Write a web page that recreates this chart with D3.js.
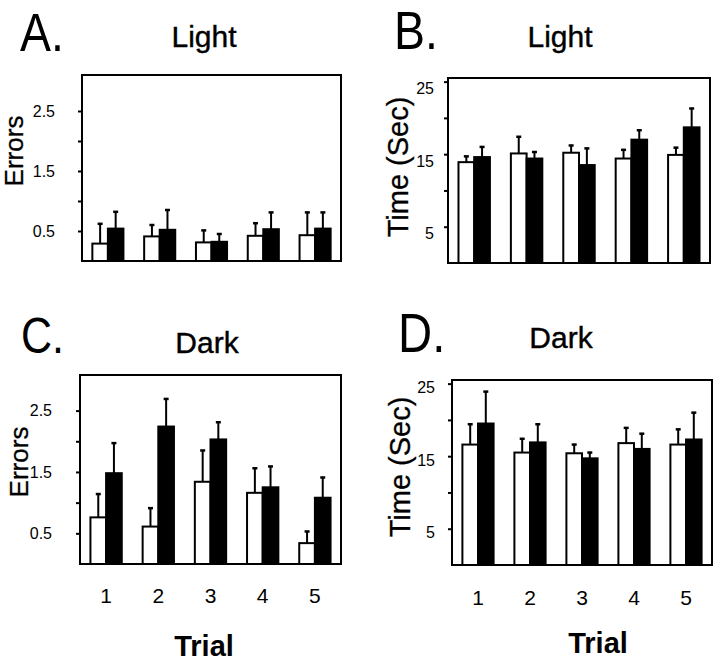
<!DOCTYPE html>
<html>
<head>
<meta charset="utf-8">
<script src="https://cdn.jsdelivr.net/npm/d3@7"></script>
<style>
  html, body { margin: 0; padding: 0; background: #fff; }
  svg { display: block; font-family: "Liberation Sans", Arial, sans-serif; }
</style>
</head>
<body>
<svg id="chart" width="720" height="661"></svg>
<script>
// ---- data ----
const trials = ["1", "2", "3", "4", "5"];

// A. Light – errors
const lightErrorsOpen      = [0.29, 0.41, 0.31, 0.42, 0.43];
const lightErrorsOpenSE    = [0.33, 0.19, 0.20, 0.21, 0.38];
const lightErrorsFilled    = [0.54, 0.52, 0.32, 0.53, 0.54];
const lightErrorsFilledSE  = [0.28, 0.33, 0.13, 0.28, 0.27];

// B. Light – time (sec)
const lightTimeOpen        = [13.9, 15.1, 15.2, 14.4, 14.9];
const lightTimeOpenSE      = [0.8, 2.3, 1.0, 1.2, 1.0];
const lightTimeFilled      = [14.6, 14.4, 13.5, 17.0, 18.7];
const lightTimeFilledSE    = [1.4, 0.9, 2.3, 1.3, 2.6];

// C. Dark – errors
const darkErrorsOpen       = [0.76, 0.61, 1.34, 1.16, 0.34];
const darkErrorsOpenSE     = [0.38, 0.30, 0.51, 0.40, 0.19];
const darkErrorsFilled     = [1.48, 2.24, 2.03, 1.25, 1.08];
const darkErrorsFilledSE   = [0.49, 0.45, 0.28, 0.34, 0.33];

// D. Dark – time (sec)
const darkTimeOpen         = [16.6, 15.5, 15.4, 16.8, 16.6];
const darkTimeOpenSE       = [2.8, 1.9, 1.2, 2.1, 2.1];
const darkTimeFilled       = [19.5, 16.9, 14.7, 16.0, 17.3];
const darkTimeFilledSE     = [4.4, 2.5, 0.8, 2.1, 3.7];

const errorTicks = [0.5, 1, 1.5, 2, 2.5];
const errorTickLabels = ["0.5", "1.5", "2.5"];
const timeTicks = [5, 10, 15, 20, 25];
const timeTickLabels = ["5", "15", "25"];

// ---- layout ----
const panels = [
  { letter: "A.", title: "Light", yLabel: "Errors",
    open: lightErrorsOpen, openSE: lightErrorsOpenSE, filled: lightErrorsFilled, filledSE: lightErrorsFilledSE,
    ticks: errorTicks, tickLabels: errorTickLabels, yMax: 3.1,
    box: { l: 82, r: 341, t: 75, b: 261 }, tickPad: 27, labelDy: 0,
    letterPos: [20, 51], letterSize: 54, titlePos: [204, 47], yLabelPos: [23, 151], showX: false },
  { letter: "B.", title: "Light", yLabel: "Time (Sec)",
    open: lightTimeOpen, openSE: lightTimeOpenSE, filled: lightTimeFilled, filledSE: lightTimeFilledSE,
    ticks: timeTicks, tickLabels: timeTickLabels, yMax: 25.5,
    box: { l: 448, r: 710, t: 78, b: 263 }, tickPad: 14, labelDy: 7,
    letterPos: [394, 49], letterSize: 54, titlePos: [560, 47], yLabelPos: [408, 167], showX: false },
  { letter: "C.", title: "Dark", yLabel: "Errors",
    open: darkErrorsOpen, openSE: darkErrorsOpenSE, filled: darkErrorsFilled, filledSE: darkErrorsFilledSE,
    ticks: errorTicks, tickLabels: errorTickLabels, yMax: 3.08,
    box: { l: 80, r: 341, t: 375, b: 564 }, tickPad: 28, labelDy: 0,
    letterPos: [21, 353], letterSize: 50, titlePos: [207, 353], yLabelPos: [28, 462], showX: true,
    xLabelY: 603, trialPos: [204, 656] },
  { letter: "D.", title: "Dark", yLabel: "Time (Sec)",
    open: darkTimeOpen, openSE: darkTimeOpenSE, filled: darkTimeFilled, filledSE: darkTimeFilledSE,
    ticks: timeTicks, tickLabels: timeTickLabels, yMax: 25.5,
    box: { l: 452, r: 712, t: 380, b: 565 }, tickPad: 17, labelDy: 4,
    letterPos: [398, 352], letterSize: 55, titlePos: [561, 348], yLabelPos: [410, 467], showX: true,
    xLabelY: 605, trialPos: [598, 653] }
];

const svg = d3.select("#chart");

panels.forEach(p => {
  const g = svg.append("g");
  const x = d3.scaleBand().domain(trials).range([p.box.l, p.box.r]).paddingInner(0.4).paddingOuter(0.2);
  const y = d3.scaleLinear().domain([0, p.yMax]).range([p.box.b, p.box.t]);
  const bw = x.bandwidth() / 2;

  // panel letter
  g.append("text")
    .attr("transform", `translate(${p.letterPos[0]},${p.letterPos[1]}) scale(0.86,1)`)
    .attr("font-size", p.letterSize)
    .attr("fill", "#000")
    .text(p.letter);

  // title
  g.append("text")
    .attr("x", p.titlePos[0]).attr("y", p.titlePos[1])
    .attr("text-anchor", "middle")
    .attr("font-size", 30)
    .attr("stroke", "#000").attr("stroke-width", 0.4)
    .text(p.title);

  // y label
  g.append("text")
    .attr("transform", `translate(${p.yLabelPos[0]},${p.yLabelPos[1]}) rotate(-90)`)
    .attr("text-anchor", "middle")
    .attr("font-size", p.yLabel === "Errors" ? 26 : 29)
    .attr("stroke", "#000").attr("stroke-width", 0.3)
    .text(p.yLabel);

  // y axis ticks + labels
  const yAxis = d3.axisLeft(y)
    .tickValues(p.ticks)
    .tickSize(4)
    .tickPadding(p.tickPad - 4)
    .tickFormat(d => {
      const s = p.yLabel === "Errors" ? d3.format(".1f")(d) : String(d);
      return p.tickLabels.includes(s) ? s : "";
    });
  const ya = g.append("g").attr("transform", `translate(${p.box.l},0)`).call(yAxis);
  ya.select(".domain").remove();
  ya.selectAll(".tick line").attr("stroke", "#000").attr("stroke-width", 2);
  ya.selectAll(".tick text")
    .attr("font-size", 16)
    .attr("fill", "#000")
    .attr("dy", (0.32 + p.labelDy / 16) + "em");

  // bars
  const open = trials.map((t, i) => ({ t, v: p.open[i], se: p.openSE[i] }));
  const filled = trials.map((t, i) => ({ t, v: p.filled[i], se: p.filledSE[i] }));

  function errorBars(data, offset) {
    const eg = g.append("g");
    eg.selectAll("line.err").data(data).join("line")
      .attr("x1", d => x(d.t) + offset + bw / 2).attr("x2", d => x(d.t) + offset + bw / 2)
      .attr("y1", d => y(d.v)).attr("y2", d => y(d.v + d.se))
      .attr("stroke", "#000").attr("stroke-width", 2);
    eg.selectAll("line.cap").data(data).join("line")
      .attr("x1", d => x(d.t) + offset + bw / 2 - 2.5).attr("x2", d => x(d.t) + offset + bw / 2 + 2.5)
      .attr("y1", d => y(d.v + d.se)).attr("y2", d => y(d.v + d.se))
      .attr("stroke", "#000").attr("stroke-width", 2.5);
  }
  errorBars(open, 0);
  errorBars(filled, bw);

  g.append("g").selectAll("rect").data(open).join("rect")
    .attr("x", d => x(d.t)).attr("width", bw)
    .attr("y", d => y(d.v)).attr("height", d => y(0) - y(d.v))
    .attr("fill", "#fff").attr("stroke", "#000").attr("stroke-width", 2);
  g.append("g").selectAll("rect").data(filled).join("rect")
    .attr("x", d => x(d.t) + bw).attr("width", bw)
    .attr("y", d => y(d.v)).attr("height", d => y(0) - y(d.v))
    .attr("fill", "#000").attr("stroke", "#000").attr("stroke-width", 2);

  // frame
  g.append("rect")
    .attr("x", p.box.l).attr("y", p.box.t)
    .attr("width", p.box.r - p.box.l).attr("height", p.box.b - p.box.t)
    .attr("fill", "none").attr("stroke", "#000").attr("stroke-width", 2);

  if (p.showX) {
    const xAxis = d3.axisBottom(x).tickSize(0).tickPadding(0);
    const xa = g.append("g").attr("transform", `translate(0,${p.xLabelY})`).call(xAxis);
    xa.select(".domain").remove();
    xa.selectAll(".tick text").attr("font-size", 21).attr("fill", "#000").attr("dy", 0).attr("y", 0);
    g.append("text")
      .attr("x", p.trialPos[0]).attr("y", p.trialPos[1])
      .attr("text-anchor", "middle")
      .attr("font-size", 29).attr("font-weight", "bold")
      .text("Trial");
  }
});
</script>
</body>
</html>
